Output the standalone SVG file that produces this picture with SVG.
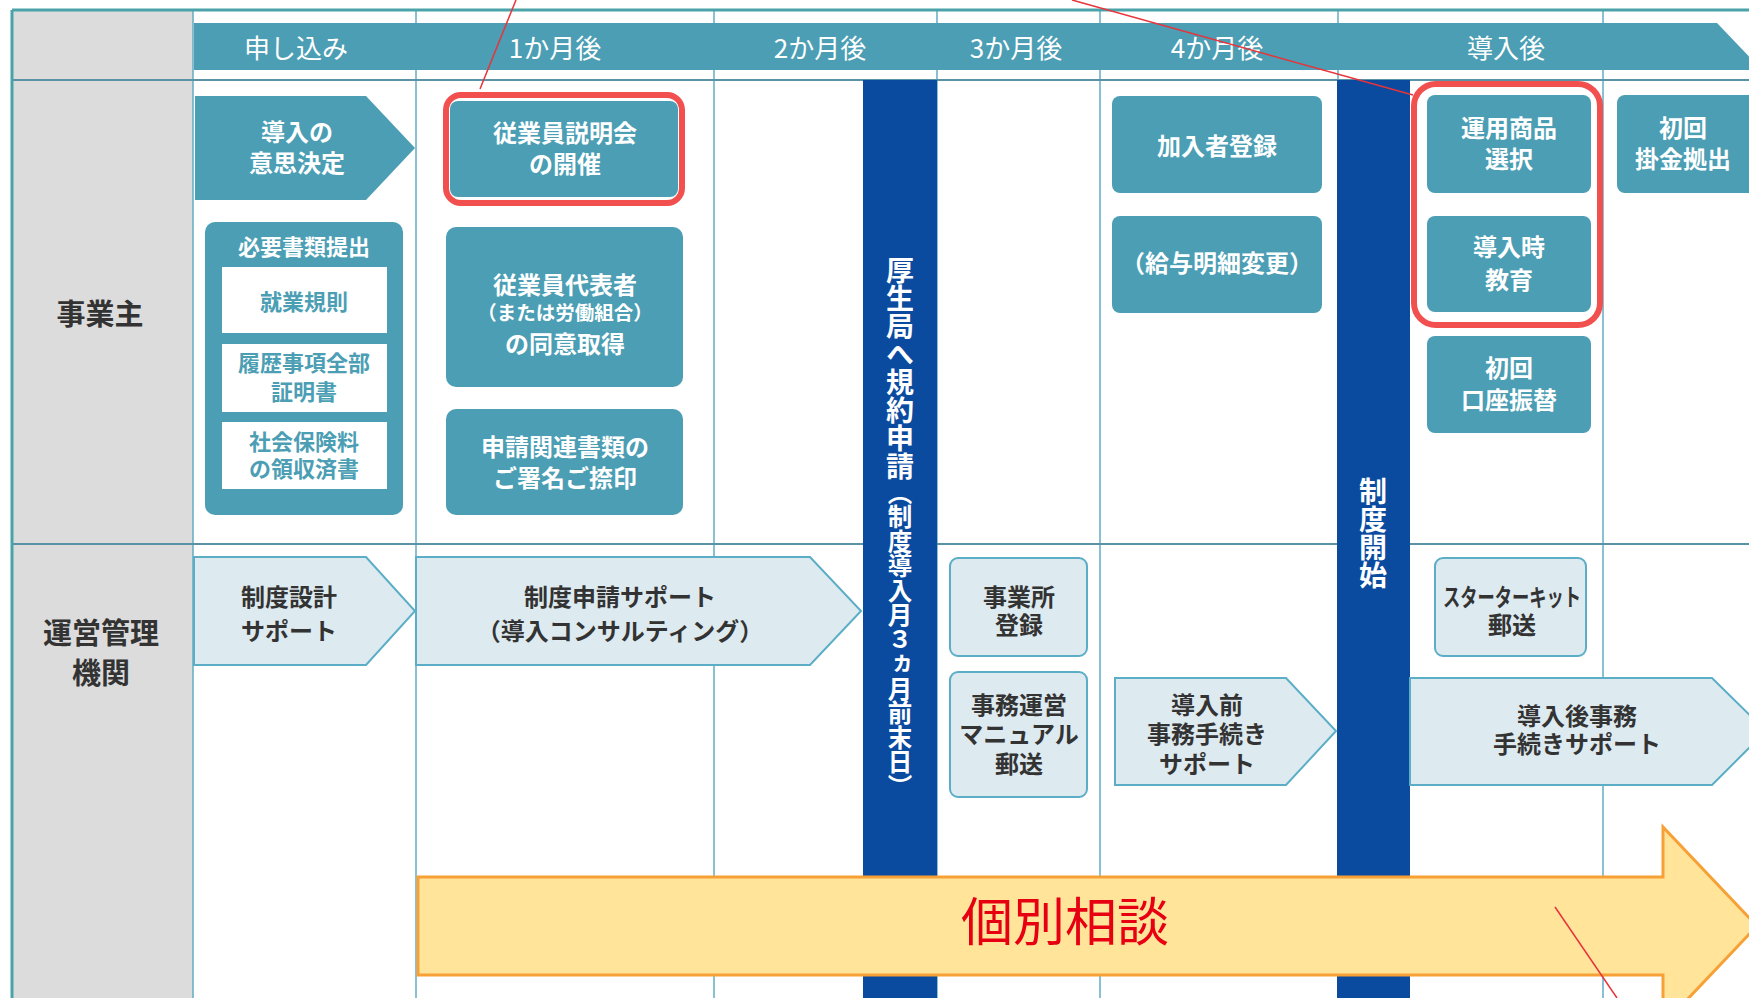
<svg xmlns="http://www.w3.org/2000/svg" width="1749" height="998" viewBox="0 0 1749 998">
<style>
text { font-family: "Noto Sans CJK JP", "Noto Sans CJK SC", sans-serif; text-anchor: middle; }
.w { fill: #ffffff; font-weight: 700; font-size: 24px; }
.d { fill: #333333; font-weight: 700; font-size: 24px; }
.tl { fill: #4B9EB4; font-weight: 700; font-size: 22px; }
.hd { fill: #ffffff; font-weight: 400; font-size: 26px; }
.lbl { fill: #333333; font-weight: 700; font-size: 29px; }
.teal { fill: #4B9EB4; }
.light { fill: #DDEAF0; stroke: #5BAEC6; stroke-width: 2; }
.grid { stroke: #62ADC3; stroke-width: 1.5; fill: none; }
.row { stroke: #5B93A6; stroke-width: 2; fill: none; }
.bar { fill: #0A4B9F; }
.hl { fill: none; stroke: #F24F4F; stroke-width: 6; }
.note { stroke: #E8333A; stroke-width: 1.5; fill: none; }
.vt { fill: #ffffff; font-weight: 700; writing-mode: vertical-rl; text-anchor: start; }
</style>
<rect x="0" y="0" width="1749" height="998" fill="#ffffff"/>

<g id="grid">
  <rect x="12" y="10" width="181" height="988" fill="#DCDCDC"/>
  <line class="grid" x1="193" y1="10" x2="193" y2="998"/>
  <line class="grid" x1="416" y1="10" x2="416" y2="998"/>
  <line class="grid" x1="714" y1="10" x2="714" y2="998"/>
  <line class="grid" x1="937" y1="10" x2="937" y2="998"/>
  <line class="grid" x1="1100" y1="10" x2="1100" y2="998"/>
  <line class="grid" x1="1338" y1="10" x2="1338" y2="998"/>
  <line class="grid" x1="1603" y1="10" x2="1603" y2="998"/>
  <line class="row" x1="12" y1="80" x2="1749" y2="80"/>
  <line class="row" x1="12" y1="544" x2="1749" y2="544"/>
  <line x1="12" y1="10" x2="1749" y2="10" stroke="#4AA3A8" stroke-width="3"/>
  <line x1="12" y1="10" x2="12" y2="998" stroke="#4AA3A8" stroke-width="3"/>
</g>

<g id="header">
  <polygon class="teal" points="194,23 1717,23 1762,70 194,70"/>
  <text class="hd" x="296" y="58">申し込み</text>
  <text class="hd" x="555" y="58">1か月後</text>
  <text class="hd" x="820" y="58">2か月後</text>
  <text class="hd" x="1016" y="58">3か月後</text>
  <text class="hd" x="1217" y="58">4か月後</text>
  <text class="hd" x="1506" y="58">導入後</text>
</g>

<g id="lane-labels">
  <text class="lbl" x="100" y="325">事業主</text>
  <text class="lbl" x="101" y="644">運営管理<tspan x="101" dy="40">機関</tspan></text>
</g>

<g id="bar-kouseikyoku">
  <rect class="bar" x="863" y="80" width="74" height="918"/>
  <text class="vt" x="900" y="256" font-size="28">厚生局へ規約申請<tspan font-size="24.5">（制度導入月３ヵ月前末日）</tspan></text>
</g>
<g id="bar-seido-kaishi">
  <rect class="bar" x="1337" y="80" width="73" height="918"/>
  <text class="vt" x="1373" y="477" font-size="28">制度開始</text>
</g>

<g id="n-ishikettei">
  <polygon class="teal" points="195,96 366,96 415,148 366,200 195,200"/>
  <text class="w" x="297" y="141">導入の<tspan x="297" dy="31">意思決定</tspan></text>
</g>
<g id="n-setsumeikai">
  <rect class="teal" x="450" y="101" width="228" height="96" rx="8"/>
  <rect class="hl" x="446" y="95" width="236" height="108" rx="15"/>
  <text class="w" x="565" y="142">従業員説明会<tspan x="565" dy="31">の開催</tspan></text>
</g>
<g id="n-shorui">
  <rect class="teal" x="205" y="222" width="198" height="293" rx="10"/>
  <text class="w" x="304" y="255" style="font-size:22px">必要書類提出</text>
  <rect x="222" y="267" width="165" height="66" fill="#ffffff"/>
  <rect x="222" y="344" width="165" height="68" fill="#ffffff"/>
  <rect x="222" y="422" width="165" height="67" fill="#ffffff"/>
  <text class="tl" x="304" y="310">就業規則</text>
  <text class="tl" x="304" y="371">履歴事項全部<tspan x="304" dy="29">証明書</tspan></text>
  <text class="tl" x="304" y="450">社会保険料<tspan x="304" dy="27">の領収済書</tspan></text>
</g>
<g id="n-doui">
  <rect class="teal" x="446" y="227" width="237" height="160" rx="10"/>
  <text class="w" x="565" y="294">従業員代表者<tspan x="565" dy="26" style="font-size:19.5px">（または労働組合）</tspan><tspan x="565" dy="33">の同意取得</tspan></text>
</g>
<g id="n-shomei">
  <rect class="teal" x="446" y="409" width="237" height="106" rx="10"/>
  <text class="w" x="565" y="456">申請関連書類の<tspan x="565" dy="31">ご署名ご捺印</tspan></text>
</g>
<g id="n-kanyusha">
  <rect class="teal" x="1112" y="96" width="210" height="97" rx="8"/>
  <text class="w" x="1217" y="155">加入者登録</text>
</g>
<g id="n-kyuyo">
  <rect class="teal" x="1112" y="216" width="210" height="97" rx="8"/>
  <text class="w" x="1217" y="272">（給与明細変更）</text>
</g>
<g id="n-unyo">
  <rect class="teal" x="1427" y="95" width="164" height="98" rx="8"/>
  <text class="w" x="1509" y="137">運用商品<tspan x="1509" dy="31">選択</tspan></text>
</g>
<g id="n-kyoiku">
  <rect class="teal" x="1427" y="216" width="164" height="96" rx="8"/>
  <text class="w" x="1509" y="256">導入時<tspan x="1509" dy="33">教育</tspan></text>
</g>
<g id="highlight-unyo-kyoiku">
  <rect class="hl" x="1414" y="84" width="186" height="241" rx="22"/>
</g>
<g id="n-furikae">
  <rect class="teal" x="1427" y="336" width="164" height="97" rx="8"/>
  <text class="w" x="1509" y="377">初回<tspan x="1509" dy="32">口座振替</tspan></text>
</g>
<g id="n-kakekin">
  <rect class="teal" x="1617" y="95" width="160" height="98" rx="8"/>
  <text class="w" x="1683" y="137">初回<tspan x="1683" dy="31">掛金拠出</tspan></text>
</g>

<g id="n-sekkei">
  <polygon class="light" points="194,557 366,557 415,611 366,665 194,665"/>
  <text class="d" x="289" y="606">制度設計<tspan x="289" dy="34">サポート</tspan></text>
</g>
<g id="n-shinsei">
  <polygon class="light" points="416,557 810,557 861,611 810,665 416,665"/>
  <text class="d" x="620" y="606">制度申請サポート<tspan x="620" dy="34">（導入コンサルティング）</tspan></text>
</g>
<g id="n-jigyosho">
  <rect class="light" x="950" y="558" width="137" height="98" rx="8"/>
  <text class="d" x="1019" y="606">事業所<tspan x="1019" dy="28">登録</tspan></text>
</g>
<g id="n-manual">
  <rect class="light" x="950" y="672" width="137" height="125" rx="8"/>
  <text class="d" x="1019" y="714">事務運営<tspan x="1019" dy="29">マニュアル</tspan><tspan x="1019" dy="30">郵送</tspan></text>
</g>
<g id="n-dounyumae">
  <polygon class="light" points="1115,678 1286,678 1336,731 1286,785 1115,785"/>
  <text class="d" x="1207" y="714">導入前<tspan x="1207" dy="29">事務手続き</tspan><tspan x="1207" dy="30">サポート</tspan></text>
</g>
<g id="n-starter">
  <rect class="light" x="1435" y="558" width="151" height="98" rx="8"/>
  <text class="d" x="1512" y="606"><tspan textLength="138" lengthAdjust="spacingAndGlyphs">スターターキット</tspan><tspan x="1512" dy="28">郵送</tspan></text>
</g>
<g id="n-dounyugo">
  <polygon class="light" points="1410,678 1712,678 1766,731 1712,785 1410,785"/>
  <text class="d" x="1577" y="725">導入後事務<tspan x="1577" dy="28">手続きサポート</tspan></text>
</g>

<g id="n-kobetsu">
  <polygon points="418,877 1663,877 1663,827 1757,926 1663,1025 1663,975 418,975" fill="#FFE49A" stroke="#F7A035" stroke-width="3"/>
  <text x="1065" y="941" font-size="52" font-weight="400" fill="#E60012">個別相談</text>
</g>

<g id="connectors">
  <line class="note" x1="516" y1="0" x2="480" y2="89"/>
  <line class="note" x1="1072" y1="0" x2="1413" y2="95"/>
  <line class="note" x1="1555" y1="907" x2="1617" y2="998"/>
</g>
</svg>
